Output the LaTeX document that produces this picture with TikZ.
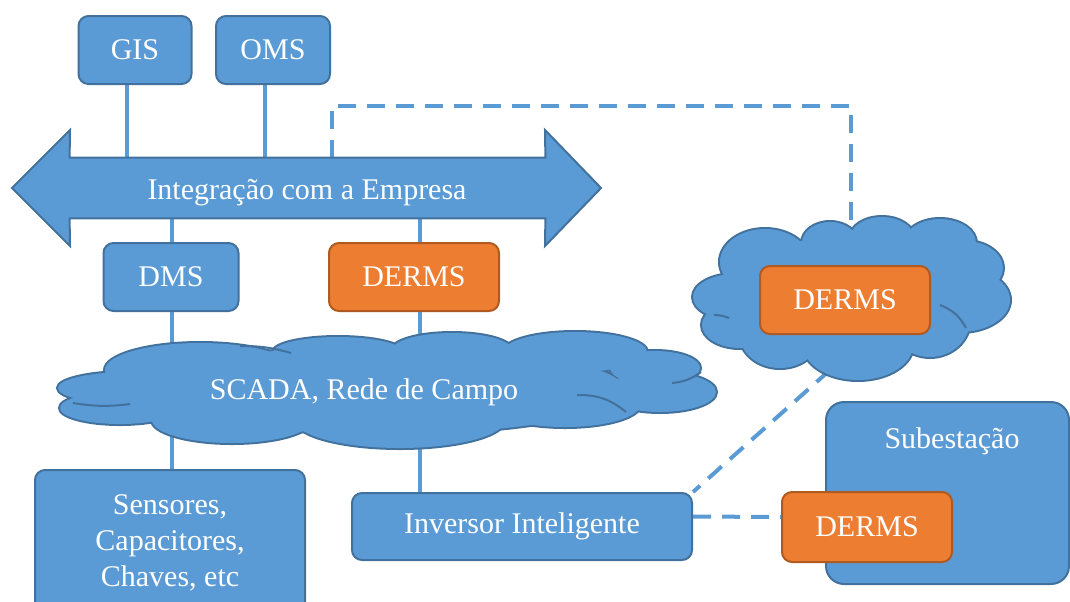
\documentclass[tikz,border=0pt]{standalone}
\usepackage{fontspec}
\setmainfont{Liberation Serif}
\usetikzlibrary{backgrounds}
\definecolor{boxblue}{RGB}{91,155,213}
\definecolor{edgeblue}{RGB}{65,113,156}
\definecolor{boxorange}{RGB}{237,125,49}
\definecolor{edgeorange}{RGB}{174,90,33}
\tikzset{
  blk/.style={rectangle, rounded corners=5pt, draw=edgeblue, fill=boxblue,
    line width=1pt, text=white, font=\fontsize{15}{18}\selectfont},
  derm/.style={blk, draw=edgeorange, fill=boxorange,
    minimum width=85pt, minimum height=34pt},
  rotulo/.style={text=white, font=\fontsize{15}{18}\selectfont},
  puffline/.style={edgeblue, line width=1pt},
  link/.style={boxblue, line width=2pt},
  dlink/.style={boxblue, line width=2pt, dash pattern=on 9pt off 5.5pt}
}
% puffs of the clouds: x/y/x radius/y radius
\def\scadapuffs{129/388/71/16, 120/408/60/16, 232/420/80/23, 400/420/105/28,
  565/405/75/22, 660/392/56/20, 655/368/45/17, 575/352/72/20,
  452/350/60/17, 338/352/65/15, 200/370/95/27, 385/390/240/44}
\def\dermspuffs{765/262/45/33, 830/243/28/21, 882/238/32/21, 940/243/36/24,
  965/268/38/27, 960/300/50/32, 930/320/40/37, 858/345/55/35,
  780/335/40/33, 740/325/38/23, 735/297/42/23, 850/292/130/55}
% one cloud: outline first, then the fill over it
\newcommand{\nuvem}[1]{%
  \foreach \cx/\cy/\rx/\ry in #1 {
    \draw[edgeblue, line width=2pt] (\cx,\cy) ellipse [x radius={\rx*0.5pt}, y radius={\ry*0.5pt}];
  }
  \foreach \cx/\cy/\rx/\ry in #1 {
    \fill[boxblue] (\cx,\cy) ellipse [x radius={\rx*0.5pt}, y radius={\ry*0.5pt}];
  }}
\begin{document}
\begin{tikzpicture}[x=0.5pt,y=-0.5pt]
                \useasboundingbox (0,0) rectangle (1070,601);
                % Top systems
                \node[blk, minimum width=56.5pt, minimum height=34pt] (gis) at (135,50) {GIS};
                \node[blk, minimum width=57pt, minimum height=34pt] (oms) at (273,50) {OMS};

                % Draw the double arrow round the enterprise bus
                \node[minimum width=237.5pt, minimum height=30pt, inner sep=0pt] (bus) at (307.5,188) {};
                \draw[draw=edgeblue, fill=boxblue, line width=1pt]
                (bus.north west) -- (70,130) -- (12,188) -- (70,246) --
                (bus.south west) -- (bus.south east) --
                (545,246) -- (601,188) -- (545,130) -- (bus.north east) -- cycle;
                \node[rotulo, anchor=base] at (307,199) {Integração com a Empresa};

                \node[blk, minimum width=67.5pt, minimum height=34pt] (dms) at (171,277) {DMS};
                \node[derm] (derma) at (414,277) {DERMS};

                %Draw the field network cloud
                \nuvem{\scadapuffs}
                \draw[puffline] (240,346) to[bend left=8] (291,353);
                \draw[puffline] (577,395) to[bend left=20] (626,412);
                \draw[puffline] (672,383) to[bend right=15] (701,372);
                \draw[puffline] (73,403) to[bend right=8] (130,404);
                \coordinate (scada) at (385,390);
                \node[rotulo, anchor=base] at (364,399) {SCADA, Rede de Campo};

                \node[blk, minimum width=135pt, minimum height=72.5pt, align=center] (sens) at (170,542.5)
                {Sensores,\\Capacitores,\\Chaves, etc};
                \node[blk, minimum width=170pt, minimum height=33.5pt] (inv) at (522,526.5) {Inversor Inteligente};

                % Cloud DERMS on the right
                \nuvem{\dermspuffs}
                \draw[puffline] (940,305) to[bend left=20] (966,328);
                \draw[puffline] (714,315) to[bend left=10] (729,318);
                \coordinate (derms cloud) at (851,297);
                \node[derm] (dermb) at (845,300) {DERMS};

                %Draw the substation
                \node[blk, rounded corners=9pt, minimum width=121.5pt, minimum height=91pt] (sub) at (947.5,493) {};
                \node[rotulo] at (952,441) {Subestação};
                \node[derm, minimum height=35pt] (dermc) at (867,527) {DERMS};

                % Connectors behind the shapes
                \begin{pgfonlayer}{background}
                \draw[link] (gis.south -| 127,0) -- (127,158);
                \draw[link] (oms.south -| 265,0) -- (265,158);
                \draw[link] (172,218) -- (sens.north -| 172,0);
                \draw[link] (420,218) -- (inv.north -| 420,0);
                \draw[dlink] (332,158) -- (332,106) -- (851,106) -- (derms cloud);
                \draw[dlink] (830,370) -- (inv.north east);
                \end{pgfonlayer}
                \draw[dlink] ([yshift=5pt]inv.east) -- ([yshift=5pt]dermc.west);
            \end{tikzpicture}
\end{document}
